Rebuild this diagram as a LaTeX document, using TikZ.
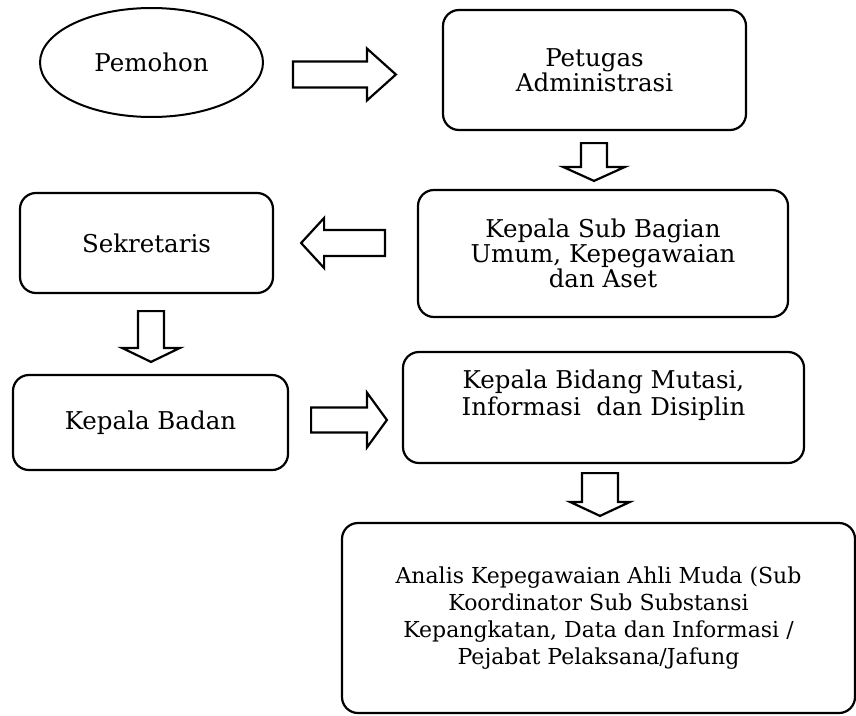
\documentclass[tikz,border=0pt]{standalone}
\usepackage{fontspec}
\setmainfont{DejaVu Serif}
\usepackage{tikz}
\usetikzlibrary{shapes.geometric,calc}

\tikzset{
	box/.style = {draw, line width=2.2pt, rounded corners=16pt, align=center, inner sep=0pt},
	oval/.style = {draw, ellipse, line width=2pt, inner sep=0pt},
	fatarrow/.style = {draw, line width=2.2pt, fill=white}
}
% block arrow: start, tip, half shaft, half head, head length
\newcommand{\fatarrow}[5]{%
	\coordinate (hb) at ($(#2)!#5!(#1)$);
	\draw[fatarrow] ($(#1)!#3!90:(#2)$) -- ($(hb)!#3!90:(#2)$) -- ($(hb)!#4!90:(#2)$) -- (#2)
		-- ($(hb)!#4!-90:(#2)$) -- ($(hb)!#3!-90:(#2)$) -- ($(#1)!#3!-90:(#2)$) -- cycle;}

\begin{document}
\begin{tikzpicture}[x=1pt, y=-1pt, font=\fontsize{24.5}{25}\selectfont]
	\useasboundingbox (0,0) rectangle (856,715);

	\node[oval, minimum width=223pt, minimum height=109pt] (pemohon) at (151.5,62.5) {Pemohon};
	\node[box, minimum width=303pt, minimum height=120pt] (petugas) at (594.5,70) {Petugas\\Administrasi};
	\node[box, minimum width=370pt, minimum height=127pt] (kasubag) at (603,253.5) {Kepala Sub Bagian\\Umum, Kepegawaian\\dan Aset};
	\node[box, minimum width=253pt, minimum height=100pt] (sekretaris) at (146.5,243) {Sekretaris};
	\node[box, minimum width=275pt, minimum height=95pt] (kaban) at (150.5,422.5) {Kepala Badan};
	\node[box, minimum width=401pt, minimum height=111pt, font=\fontsize{24.5}{27}\selectfont] (kabid) at (603.5,407.5) {Kepala Bidang Mutasi,\\Informasi~~dan Disiplin\\[-6pt]\strut};
	\node[box, minimum width=513pt, minimum height=190pt, font=\fontsize{22}{27}\selectfont] (analis) at (598.5,618) {Analis Kepegawaian Ahli Muda (Sub\\Koordinator Sub Substansi\\Kepangkatan, Data dan Informasi /\\Pejabat Pelaksana/Jafung};

	\coordinate (p1) at ($(pemohon.east)+(29,12)$);
	\coordinate (p2) at ($(petugas.west)+(-46,4.5)$);
	\coordinate (p3) at ($(petugas.south)+(-0.5,12)$);
	\coordinate (p4) at ($(kasubag.north)+(-9,-8)$);
	\coordinate (p5) at ($(kasubag.west)+(-32,-10.5)$);
	\coordinate (p6) at ($(sekretaris.east)+(27,0)$);
	\coordinate (p7) at ($(sekretaris.south)+(4.5,17)$);
	\coordinate (p8) at ($(kaban.north)+(0.5,-12)$);
	\coordinate (p9) at ($(kaban.east)+(22,-2.5)$);
	\coordinate (p10) at ($(kabid.west)+(-15,12.5)$);
	\coordinate (p11) at ($(kabid.south)+(-3.5,9)$);
	\coordinate (p12) at ($(analis.north)+(1.5,-6)$);

	\fatarrow{p1}{p2}{13pt}{26pt}{29pt}
	\fatarrow{p3}{p4}{13pt}{31pt}{14pt}
	\fatarrow{p5}{p6}{13pt}{25pt}{23pt}
	\fatarrow{p7}{p8}{13pt}{29pt}{14pt}
	\fatarrow{p9}{p10}{12.5pt}{27.5pt}{20pt}
	\fatarrow{p11}{p12}{18pt}{30pt}{14pt}
\end{tikzpicture}
\end{document}
